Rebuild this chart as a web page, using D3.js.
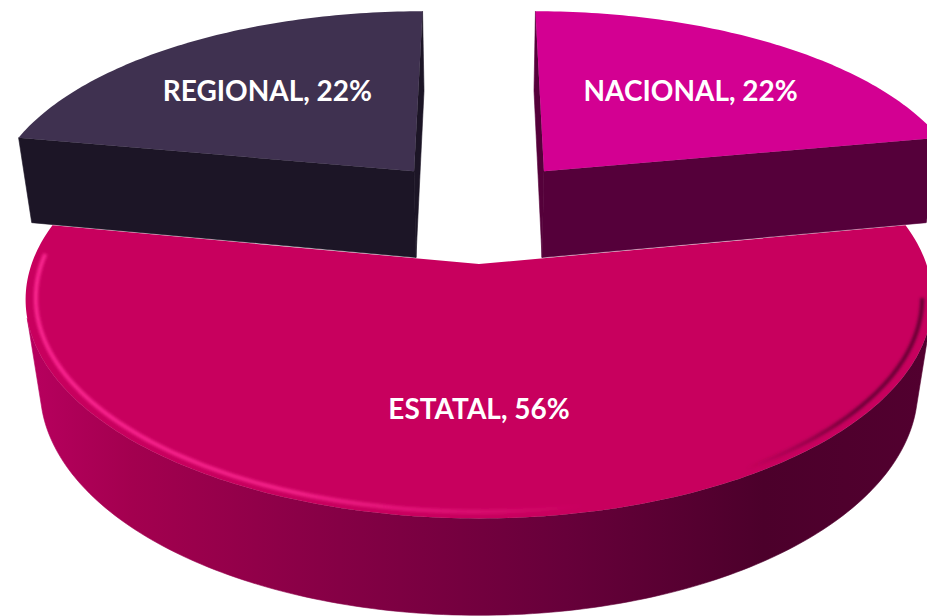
<!DOCTYPE html>
<html>
<head>
<meta charset="utf-8">
<script src="https://cdn.jsdelivr.net/npm/d3@7"></script>
<style>
  body { margin: 0; background: #fff; }
  svg { display: block; }
</style>
</head>
<body>
<svg id="chart" width="927" height="616"></svg>
<script>
const categories = ["NACIONAL", "ESTATAL", "REGIONAL"]
const values = [22, 56, 22]
const label_texts = ["NACIONAL, 22%", "ESTATAL, 56%", "REGIONAL, 22%"]

const top_colors = ["#d30092", "#c8005e", "#3f3150"]
const side_colors = ["#55003a", "url(#estatal_side)", "#1c1526"]
const explode = [0.245, 0.28, 0.245]

// perspective view of the flat pie
const view = {cx: 479, cy: 207, sx: 428, sy: 195, k: 0.155, cot: 1.52, tan: 0.658}
const thickness = 0.305

function project(u, v, w) {
    const z = 1 + view.k * v - w * view.k * view.tan
    return [view.cx + view.sx * u / z, view.cy + view.sy * (-v - w * view.cot) / z]
}

function area(pts) {
    let s = 0
    for (let i = 0; i < pts.length; i++) {
        const a = pts[i], b = pts[(i + 1) % pts.length]
        s += a[0] * b[1] - b[0] * a[1]
    }
    return s / 2
}

const svg = d3.select("#chart")
const defs = svg.append("defs")

const side_grad = defs.append("linearGradient")
    .attr("id", "estatal_side")
    .attr("gradientUnits", "userSpaceOnUse")
    .attr("x1", 24).attr("x2", 926).attr("y1", 0).attr("y2", 0)
side_grad.selectAll("stop")
    .data([[0, "#b8005f"], [0.12, "#a3004f"], [0.35, "#850045"], [0.6, "#67003a"], [0.82, "#4c002b"], [1, "#52002f"]])
    .join("stop")
    .attr("offset", d => d[0])
    .attr("stop-color", d => d[1])

const hl_grad = defs.append("linearGradient")
    .attr("id", "rim_light")
    .attr("gradientUnits", "userSpaceOnUse")
    .attr("x1", 24).attr("x2", 926).attr("y1", 0).attr("y2", 0)
hl_grad.selectAll("stop")
    .data([[0, "#ff2a94", 0.95], [0.3, "#ff2a94", 0.8], [0.5, "#ff2a94", 0.35], [0.62, "#ff2a94", 0], [0.8, "#5a0030", 0], [0.92, "#4a0028", 0.7], [1, "#4a0028", 0.8]])
    .join("stop")
    .attr("offset", d => d[0])
    .attr("stop-color", d => d[1])
    .attr("stop-opacity", d => d[2])

defs.append("filter").attr("id", "soft")
    .append("feGaussianBlur").attr("stdDeviation", 1.6)

const arcs = d3.pie().sort(null).value(d => d)(values)

const slices = arcs.map((a, i) => {
    const mid = (a.startAngle + a.endAngle) / 2
    const du = explode[i] * Math.sin(mid), dv = explode[i] * Math.cos(mid)
    const n = Math.ceil((a.endAngle - a.startAngle) / (Math.PI / 180))
    const angles = d3.range(n + 1).map(j => a.startAngle + (a.endAngle - a.startAngle) * j / n)
    const rim = (t, w, r = 1) => project(du + r * Math.sin(t), dv + r * Math.cos(t), w)
    return {i, a, mid, du, dv, angles, rim,
        apex: w => project(du, dv, w)}
})

const line = d3.line()
const poly = pts => line(pts) + "Z"

// farthest slices first
slices.sort((p, q) => q.dv - p.dv)

slices.forEach(s => {
    const g = svg.append("g").attr("class", "slice-" + categories[s.i])
    const h = -thickness
    const faces = []

    // cut faces
    const ts = s.a.startAngle, te = s.a.endAngle
    const f1 = [s.apex(0), s.rim(ts, 0), s.rim(ts, h), s.apex(h)]
    const f2 = [s.apex(0), s.apex(h), s.rim(te, h), s.rim(te, 0)]
    if (area(f1) < 0) faces.push(f1)
    if (area(f2) < 0) faces.push(f2)

    // outer wall, visible part only
    const vis = []
    for (let j = 0; j < s.angles.length - 1; j++) {
        const q = [s.rim(s.angles[j], 0), s.rim(s.angles[j + 1], 0), s.rim(s.angles[j + 1], h), s.rim(s.angles[j], h)]
        if (area(q) < 0) vis.push(j)
    }
    if (vis.length) {
        const j0 = d3.min(vis), j1 = d3.max(vis) + 1
        const run = s.angles.slice(j0, j1 + 1)
        faces.push(run.map(t => s.rim(t, 0)).concat(run.slice().reverse().map(t => s.rim(t, h))))
    }

    g.selectAll("path.side")
        .data(faces)
        .join("path")
        .attr("class", "side")
        .attr("d", poly)
        .attr("fill", side_colors[s.i])
        .attr("stroke", side_colors[s.i])
        .attr("stroke-width", 0.6)

    const top = [s.apex(0)].concat(s.angles.map(t => s.rim(t, 0)))
    g.append("path")
        .attr("d", poly(top))
        .attr("fill", top_colors[s.i])

    if (categories[s.i] == "ESTATAL") {
        const front = s.angles.filter(t => t > Math.PI * 0.55 && t < Math.PI * 1.52)
        g.append("path")
            .attr("d", line(front.map(t => s.rim(t, 0, 0.978))))
            .attr("fill", "none")
            .attr("stroke", "url(#rim_light)")
            .attr("stroke-width", 4)
            .attr("filter", "url(#soft)")
    }
})

// labels
svg.append("g")
    .selectAll("text")
    .data(slices)
    .join("text")
    .attr("transform", s => {
        const r = 0.61
        const p = project(s.du + r * Math.sin(s.mid), s.dv + r * Math.cos(s.mid), 0)
        return `translate(${p[0]},${p[1]})`
    })
    .attr("text-anchor", "middle")
    .attr("dominant-baseline", "central")
    .attr("font-family", "Lato, 'Open Sans', sans-serif")
    .attr("font-weight", "bold")
    .attr("font-size", 28)
    .attr("fill", "#fff")
    .text(s => label_texts[s.i])
</script>
</body>
</html>
